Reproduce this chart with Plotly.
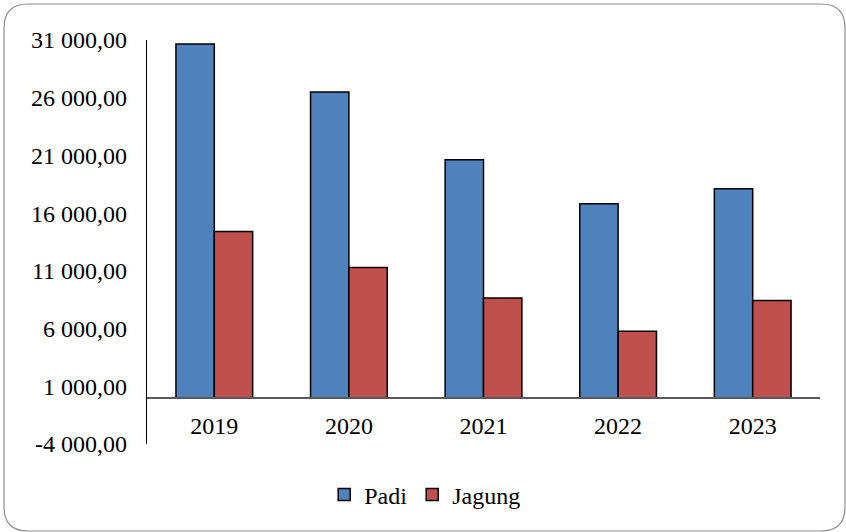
import plotly.graph_objects as go

years = ["2019", "2020", "2021", "2022", "2023"]
padi = [30650, 26500, 20620, 16820, 18120]
jagung = [14400, 11290, 8650, 5760, 8440]
tick_vals = [-4000, 1000, 6000, 11000, 16000, 21000, 26000, 31000]
tick_text = ["-4 000,00", "1 000,00", "6 000,00", "11 000,00", "16 000,00",
             "21 000,00", "26 000,00", "31 000,00"]

W, H = 846, 532
L, R, T, B = 147, 26, 40, 88
pw, ph = W - L - R, H - T - B

def px(x):
    return (x - L) / pw

def py(y):
    return (H - B - y) / ph

font = dict(family="Liberation Serif", size=24, color="#000000")

fig = go.Figure()
fig.add_trace(go.Bar(name="Padi", x=years, y=padi, marker=dict(color="#4F81BD", line=dict(color="#000000", width=1.5))))
fig.add_trace(go.Bar(name="Jagung", x=years, y=jagung, marker=dict(color="#C0504D", line=dict(color="#000000", width=1.5))))

# rounded border
x0, y0, x1, y1, r = 4, 4, 845, 531, 24
path = (f"M {px(x0+r)},{py(y0)} L {px(x1-r)},{py(y0)} Q {px(x1)},{py(y0)} {px(x1)},{py(y0+r)} "
        f"L {px(x1)},{py(y1-r)} Q {px(x1)},{py(y1)} {px(x1-r)},{py(y1)} "
        f"L {px(x0+r)},{py(y1)} Q {px(x0)},{py(y1)} {px(x0)},{py(y1-r)} "
        f"L {px(x0)},{py(y0+r)} Q {px(x0)},{py(y0)} {px(x0+r)},{py(y0)} Z")
fig.add_shape(type="path", path=path, xref="paper", yref="paper",
              line=dict(color="#8c8c8c", width=1.2), layer="below")

fig.update_layout(
    width=W, height=H,
    margin=dict(l=L, r=R, t=T, b=B, autoexpand=False),
    paper_bgcolor="white", plot_bgcolor="white",
    barmode="group", bargap=0.43, bargroupgap=0,
    font=font,
    showlegend=True,
    legend=dict(orientation="h", xref="container", yref="container",
                x=0.502, xanchor="center", y=1 - 495 / H, yanchor="middle",
                font=font, itemwidth=30, traceorder="normal",
                bgcolor="rgba(0,0,0,0)"),
    xaxis=dict(anchor="free", position=4000 / 35000, showline=True,
               linecolor="#595959", linewidth=1.5, ticks="", showgrid=False,
               tickfont=font, ticklabelstandoff=7),
    yaxis=dict(range=[-4000, 31000], tickvals=tick_vals, ticktext=tick_text,
               showline=True, linecolor="#000000", linewidth=1.2, showgrid=False,
               zeroline=False, ticks="", tickfont=font, ticklabelstandoff=14),
)

fig.write_html("out.html", config={"displayModeBar": False},
               post_script="document.body.style.margin='0px';")
